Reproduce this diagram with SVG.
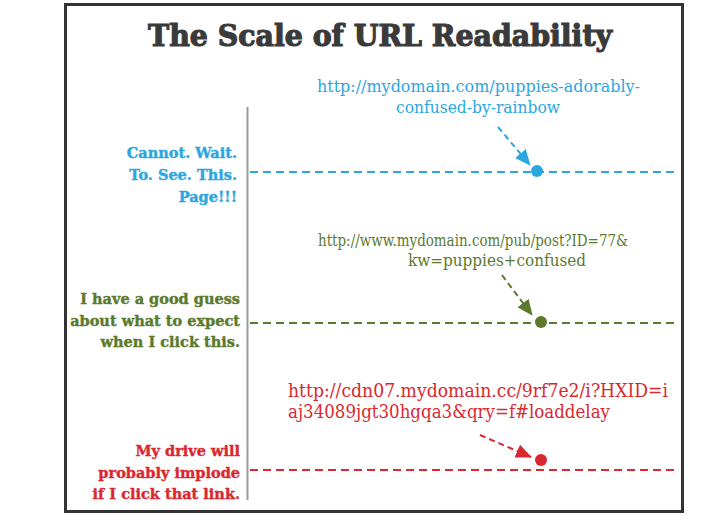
<svg xmlns="http://www.w3.org/2000/svg" width="714" height="528" viewBox="0 0 714 528">
<style>
.title{font-family:"DejaVu Serif","Liberation Serif",serif;font-weight:bold;font-size:30px;fill:#3a3a3a;stroke:#3a3a3a;stroke-width:1.2px}
.lbl{font-family:"DejaVu Serif","Liberation Serif",serif;font-weight:bold;font-size:14.5px;text-anchor:end;stroke-width:0.4px}
.url{font-family:"DejaVu Serif","Liberation Serif",serif;font-size:16px;font-stretch:condensed}
.blue{fill:#2ba6de;stroke:#2ba6de}
.green{fill:#5b7a2b;stroke:#5b7a2b}
.red{fill:#d9282f;stroke:#d9282f}
.url.blue,.url.green,.url.red{stroke:none}
.dash{stroke-width:2;stroke-dasharray:8 5;fill:none}
.arr{stroke-width:2;stroke-dasharray:6 4;fill:none}
</style>
<defs>
<marker id="hb" markerUnits="userSpaceOnUse" markerWidth="16" markerHeight="14" refX="15" refY="7" orient="auto"><path d="M0,0 L16,7 L0,14 Z" fill="#2ba6de"/></marker>
<marker id="hg" markerUnits="userSpaceOnUse" markerWidth="16" markerHeight="14" refX="15" refY="7" orient="auto"><path d="M0,0 L16,7 L0,14 Z" fill="#5b7a2b"/></marker>
<marker id="hr" markerUnits="userSpaceOnUse" markerWidth="16" markerHeight="14" refX="15" refY="7" orient="auto"><path d="M0,0 L16,7 L0,14 Z" fill="#d9282f"/></marker>
</defs>
<rect x="0" y="0" width="714" height="528" fill="#ffffff"/>
<rect id="frame" x="65.5" y="4.5" width="617" height="507" fill="#ffffff" stroke="#333333" stroke-width="3"/>
<text class="title" x="148" y="46" textLength="464" lengthAdjust="spacingAndGlyphs">The Scale of URL Readability</text>
<line id="axis" x1="247.5" y1="107" x2="247.5" y2="500" stroke="#9a9a9a" stroke-width="2"/>
<g id="connectors">
<line class="dash" x1="250" y1="172" x2="676" y2="172" stroke="#2ba6de"/>
<line class="dash" x1="250" y1="323" x2="676" y2="323" stroke="#5b7a2b"/>
<line class="dash" x1="250" y1="470" x2="676" y2="470" stroke="#d9282f"/>
<line class="arr" x1="498" y1="127" x2="530" y2="165" stroke="#2ba6de" marker-end="url(#hb)"/>
<line class="arr" x1="502" y1="275" x2="532" y2="315" stroke="#5b7a2b" marker-end="url(#hg)"/>
<line class="arr" x1="480" y1="435" x2="531" y2="457" stroke="#d9282f" marker-end="url(#hr)"/>
</g>
<g id="node-blue">
<circle cx="537" cy="171" r="6" fill="#2ba6de"/>
<text class="url blue" x="317" y="92" textLength="323" lengthAdjust="spacingAndGlyphs">http://mydomain.com/puppies-adorably-</text>
<text class="url blue" x="478" y="113" text-anchor="middle" textLength="164" lengthAdjust="spacingAndGlyphs">confused-by-rainbow</text>
<text class="lbl blue" x="237" y="158">Cannot. Wait.</text>
<text class="lbl blue" x="237" y="180">To. See. This.</text>
<text class="lbl blue" x="237" y="202">Page!!!</text>
</g>
<g id="node-green">
<circle cx="541" cy="322" r="6" fill="#5b7a2b"/>
<text class="url green" x="318" y="246" textLength="310" lengthAdjust="spacingAndGlyphs">http://www.mydomain.com/pub/post?ID=77&amp;</text>
<text class="url green" x="497" y="266" text-anchor="middle" textLength="178" lengthAdjust="spacingAndGlyphs">kw=puppies+confused</text>
<text class="lbl green" x="240" y="304">I have a good guess</text>
<text class="lbl green" x="240" y="326">about what to expect</text>
<text class="lbl green" x="240" y="347">when I click this.</text>
</g>
<g id="node-red">
<circle cx="541" cy="460" r="6" fill="#d9282f"/>
<text class="url red" x="288" y="397" style="font-size:18px" textLength="380" lengthAdjust="spacingAndGlyphs">http://cdn07.mydomain.cc/9rf7e2/i?HXID=i</text>
<text class="url red" x="288" y="418" style="font-size:18px" textLength="322" lengthAdjust="spacingAndGlyphs">aj34089jgt30hgqa3&amp;qry=f#loaddelay</text>
<text class="lbl red" x="240" y="456">My drive will</text>
<text class="lbl red" x="240" y="478">probably implode</text>
<text class="lbl red" x="240" y="499">if I click that link.</text>
</g>
</svg>
